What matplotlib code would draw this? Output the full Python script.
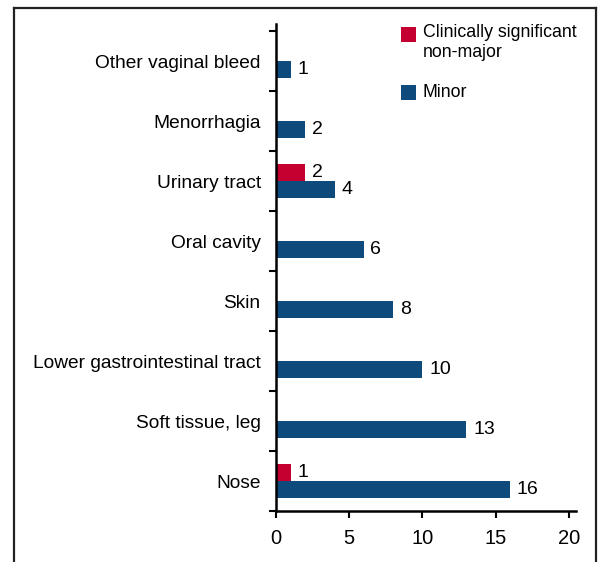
import matplotlib
matplotlib.use("Agg")
import matplotlib.pyplot as plt
from matplotlib.lines import Line2D
from matplotlib.patches import Rectangle

categories = ["Nose", "Soft tissue, leg", "Lower gastrointestinal tract", "Skin",
              "Oral cavity", "Urinary tract", "Menorrhagia", "Other vaginal bleed"]
minor = [16, 13, 10, 8, 6, 4, 2, 1]
csnm = [1, 0, 0, 0, 0, 2, 0, 0]
xticks = [0, 5, 10, 15, 20]
series_names = ["Clinically significant\nnon-major", "Minor"]

RED = "#C3002F"
BLUE = "#0F4A7D"

plt.rcParams['font.family'] = ['Liberation Sans', 'DejaVu Sans']

W, H = 598, 562
fig = plt.figure(figsize=(W / 100, H / 100), dpi=100)
ax = fig.add_axes([276 / W, 1 - 511 / H, (576 - 276) / W, (511 - 24) / H])

h = 0.283
centers = [i + 0.5 for i in range(len(categories))]
for c, m, r in zip(centers, minor, csnm):
    ax.barh(c - h / 2, m, height=h, color=BLUE, linewidth=0)
    ax.text(m + 0.45, c - h / 2, str(m), va="center", ha="left", fontsize=14)
    if r > 0:
        ax.barh(c + h / 2, r, height=h, color=RED, linewidth=0)
        ax.text(r + 0.45, c + h / 2, str(r), va="center", ha="left", fontsize=14)

ax.set_xlim(0, 20.48)
ax.set_ylim(0, 8.117)
ax.set_xticks(xticks)
ax.set_xticklabels([str(t) for t in xticks], fontsize=14.5)
ax.set_yticks(range(len(categories) + 1))
ax.set_yticklabels([])
ax.set_yticks(centers, minor=True)
ax.set_yticklabels(categories, minor=True, fontsize=13.8)
ax.tick_params(axis="y", which="major", length=5, width=1.5, direction="out")
ax.tick_params(axis="y", which="minor", length=0, pad=11)
ax.tick_params(axis="x", which="major", length=5, width=1.5, direction="out", pad=8)
for s in ["top", "right"]:
    ax.spines[s].set_visible(False)
for s in ["left", "bottom"]:
    ax.spines[s].set_linewidth(1.8)

# legend (manual, in figure pixels)
def fx(px):
    return px / W

def fy(py):
    return 1 - py / H

fig.patches.append(Rectangle((fx(401), fy(42)), 15 / W, 15 / H, transform=fig.transFigure,
                             color=RED, linewidth=0))
fig.patches.append(Rectangle((fx(401), fy(100)), 15 / W, 15 / H, transform=fig.transFigure,
                             color=BLUE, linewidth=0))
fig.text(fx(423), fy(24), series_names[0], va="top", ha="left", fontsize=12.8, linespacing=1.2)
fig.text(fx(423), fy(92.5), series_names[1], va="center", ha="left", fontsize=12.8)

# frame
lc = "#222222"
fig.add_artist(Line2D([fx(14), fx(14)], [0, fy(8)], transform=fig.transFigure, color=lc, lw=1.6))
fig.add_artist(Line2D([fx(14), fx(596)], [fy(8), fy(8)], transform=fig.transFigure, color=lc, lw=1.6))
fig.add_artist(Line2D([fx(596), fx(596)], [0, fy(8)], transform=fig.transFigure, color=lc, lw=1.6))

fig.savefig("out.png", dpi=100)
